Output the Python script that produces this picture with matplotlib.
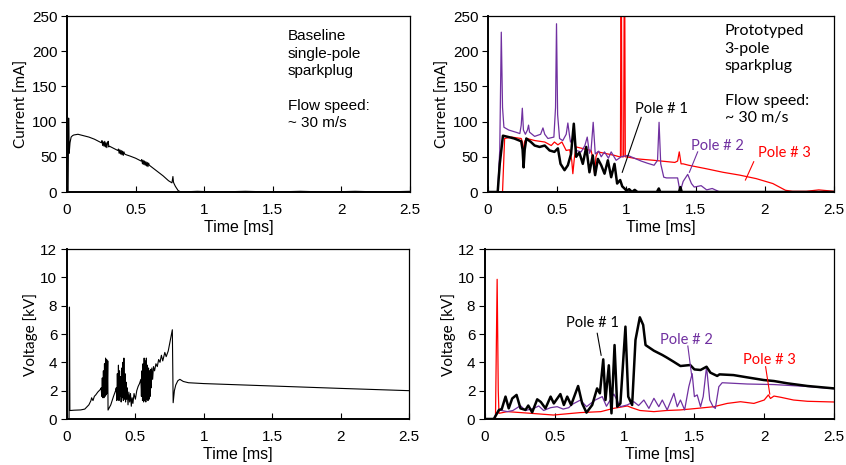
import matplotlib
matplotlib.use("Agg")
import matplotlib.pyplot as plt

# ---- baseline single-pole plug: current [mA] vs time [ms]
base_i_t = [0, 0.008, 0.012, 0.016, 0.022, 0.03, 0.04, 0.05, 0.08, 0.12, 0.16, 0.20, 0.24,
            0.25, 0.255, 0.26, 0.265, 0.27, 0.275, 0.28, 0.285, 0.29, 0.295, 0.30, 0.305, 0.31,
            0.33, 0.36, 0.37, 0.375, 0.38, 0.385, 0.39, 0.395, 0.40, 0.405, 0.41, 0.415, 0.42,
            0.43, 0.46, 0.50, 0.54, 0.545, 0.55, 0.555, 0.56, 0.565, 0.57, 0.575, 0.58, 0.585,
            0.59, 0.595, 0.60, 0.62, 0.66, 0.70, 0.74, 0.765, 0.772, 0.776, 0.78, 0.79, 0.80,
            0.81, 0.83, 0.95, 1.1, 1.3, 1.5, 1.7, 1.9, 2.1, 2.3, 2.5]
base_i = [0, 0, 105, 55, 70, 78, 80, 81, 82, 80, 78, 75, 71,
          70, 73, 66, 71, 65, 72, 64, 70, 63, 69, 72, 64, 65,
          63, 60, 59, 61, 55, 60, 54, 59, 53, 58, 52, 57, 54,
          53, 51, 48, 44, 46, 40, 45, 39, 44, 38, 43, 37, 42,
          36, 41, 38, 35, 29, 23, 16, 13, 22, 14, 12, 8, 5,
          2, 0, 1, 0, 1, 0, 1, 0, 1, 0, 1]

# ---- baseline single-pole plug: voltage [kV] vs time [ms]
base_v_t = [0, 0.015, 0.018, 0.021, 0.025, 0.05, 0.10, 0.13, 0.16, 0.175, 0.18, 0.19, 0.2,
            0.21, 0.225, 0.24, 0.245,
            0.250, 0.254, 0.258, 0.262, 0.266, 0.270, 0.274, 0.278, 0.282, 0.286, 0.290,
            0.294, 0.298, 0.300, 0.32, 0.34, 0.355,
            0.360, 0.364, 0.368, 0.372, 0.376, 0.380, 0.384, 0.388, 0.392, 0.396, 0.400,
            0.404, 0.408, 0.412, 0.416, 0.420, 0.424, 0.428, 0.432, 0.436, 0.44, 0.446,
            0.452, 0.458, 0.464, 0.470, 0.476, 0.482, 0.49, 0.50, 0.51, 0.52, 0.53,
            0.540, 0.544, 0.548, 0.552, 0.556, 0.560, 0.564, 0.568, 0.572, 0.576, 0.580,
            0.584, 0.588, 0.592, 0.596, 0.600, 0.604, 0.608, 0.612, 0.616, 0.620, 0.626,
            0.632, 0.64, 0.65, 0.66, 0.67, 0.68, 0.69, 0.70, 0.715, 0.725, 0.74, 0.77,
            0.776, 0.785, 0.795, 0.81, 0.825, 0.85, 0.888, 1.0, 1.5, 2.0, 2.5]
base_v = [0, 0, 7.9, 0.6, 0.6, 0.62, 0.64, 0.7, 1.0, 1.3, 1.5, 1.3, 1.6,
          1.7, 1.9, 2.05, 2.1,
          2.2, 1.6, 2.9, 1.5, 3.4, 1.5, 3.9, 1.6, 4.3, 1.7, 4.2,
          1.8, 4.1, 0.63, 1.0, 1.6, 2.0,
          2.2, 1.3, 3.2, 1.4, 3.8, 1.3, 3.4, 1.6, 3.0, 1.2, 3.6,
          1.5, 4.0, 1.3, 4.3, 1.4, 3.2, 1.2, 2.6, 1.4, 2.2, 1.0,
          1.9, 1.2, 1.8, 0.9, 1.5, 1.1, 1.8, 1.4, 2.0, 2.3, 2.5,
          2.8, 1.6, 3.4, 1.3, 3.9, 1.2, 4.3, 1.3, 4.1, 1.2, 4.3,
          1.4, 3.8, 1.3, 3.6, 1.4, 3.4, 1.6, 3.5, 2.2, 3.6, 2.8,
          3.7, 3.4, 3.9, 3.7, 4.2, 4.0, 4.5, 4.1, 4.7, 4.4, 4.8, 6.3,
          1.15, 2.0, 2.4, 2.7, 2.8, 2.65, 2.56, 2.5, 2.33, 2.16, 2.0]

# ---- prototyped 3-pole plug: current [mA]
p1_i_t = [0, 0.07, 0.085, 0.108, 0.15, 0.19, 0.24, 0.25, 0.257, 0.265, 0.277, 0.31, 0.337,
          0.373, 0.41, 0.445, 0.48, 0.505, 0.524, 0.553, 0.577, 0.60, 0.62, 0.637, 0.66,
          0.685, 0.71, 0.733, 0.757, 0.774, 0.794, 0.818, 0.842, 0.866, 0.89, 0.914, 0.933,
          0.955, 0.97, 0.986, 1.0, 1.02, 1.04, 1.06, 1.08, 1.22, 1.234, 1.245, 1.38, 1.39,
          1.40, 2.5]
p1_i = [0, 0, 40, 80, 78, 76, 72, 60, 35, 60, 76, 71, 66,
        64, 66, 59, 57, 62, 40, 31, 38, 54, 97, 50, 56,
        40, 64, 28, 52, 24, 47, 38, 26, 45, 21, 40, 12,
        17, 8, 5, 2, 4, 0, 3, 0, 0, 5, 0, 0, 7,
        0, 0]

p2_i_t = [0, 0.07, 0.085, 0.096, 0.105, 0.115, 0.15, 0.2, 0.23, 0.24, 0.248, 0.256, 0.27,
          0.285, 0.293, 0.30, 0.337, 0.38, 0.397, 0.41, 0.433, 0.476, 0.488, 0.495, 0.503,
          0.517, 0.54, 0.565, 0.577, 0.589, 0.596, 0.62, 0.637, 0.673, 0.70, 0.717, 0.733,
          0.745, 0.76, 0.775, 0.80, 0.818, 0.842, 0.87, 0.89, 0.926, 0.962, 1.01, 1.058,
          1.106, 1.15, 1.2, 1.225, 1.236, 1.248, 1.27, 1.29, 1.33, 1.37, 1.388, 1.41, 1.443,
          1.47, 1.49, 1.54, 1.58, 1.62, 1.675, 1.8, 2.0, 2.5]
p2_i = [0, 0, 60, 227, 120, 92, 88, 85, 83, 95, 119, 88, 82,
        88, 95, 85, 79, 82, 91, 82, 76, 78, 120, 239, 110,
        76, 73, 82, 98, 80, 71, 78, 59, 57, 66, 78, 55,
        60, 99, 54, 58, 50, 57, 48, 57, 45, 50, 52, 48,
        44, 41, 38, 45, 99, 40, 21, 20, 20, 20, 0, 15, 25,
        12, 7, 9, 3, 5, 0, 0, 0, 0]

p3_i_t = [0, 0.105, 0.12, 0.17, 0.24, 0.25, 0.257, 0.265, 0.28, 0.34, 0.41, 0.457, 0.48,
          0.505, 0.534, 0.565, 0.59, 0.605, 0.613, 0.625, 0.637, 0.70, 0.745, 0.76, 0.77,
          0.78, 0.794, 0.866, 0.914, 0.95, 0.957, 0.962, 0.968, 0.975, 0.98, 0.986, 0.992,
          1.0, 1.08, 1.2, 1.3, 1.35, 1.37, 1.382, 1.395, 1.41, 1.45, 1.578, 1.698, 1.818,
          1.938, 2.058, 2.15, 2.2, 2.3, 2.39, 2.5]
p3_i = [0, 0, 76, 78, 76, 70, 54, 72, 76, 73, 71, 66, 71,
        67, 71, 59, 60, 45, 26, 50, 64, 61, 59, 45, 26,
        50, 57, 54, 52, 50, 50, 400, 50, 50, 50, 400, 50,
        50, 47, 45, 43, 42, 44, 57, 40, 40, 38, 33, 28, 24,
        19, 12, 2.4, 1, 1, 3, 1]

# ---- prototyped 3-pole plug: voltage [kV]
p1_v_t = [0, 0.063, 0.1, 0.12, 0.147, 0.17, 0.195, 0.226, 0.254, 0.29, 0.31, 0.338, 0.374,
          0.40, 0.433, 0.47, 0.493, 0.54, 0.565, 0.589, 0.617, 0.667, 0.696, 0.727, 0.768,
          0.803, 0.823, 0.847, 0.863, 0.887, 0.906, 0.928, 0.947, 0.97, 1.006, 1.026, 1.054,
          1.078, 1.109, 1.133, 1.15, 1.21, 1.27, 1.30, 1.35, 1.40, 1.47, 1.5, 1.544, 1.587,
          1.615, 1.663, 1.68, 1.78, 1.878, 1.997, 2.07, 2.165, 2.31, 2.5]
p1_v = [0, 0, 0.64, 0.7, 1.58, 0.75, 1.45, 1.7, 0.75, 0.64, 0.95, 0.47, 1.39,
        1.2, 0.75, 1.58, 1.1, 1.76, 0.99, 1.58, 0.99, 2.33, 1.1, 0.45, 0.99,
        2.16, 1.81, 4.21, 1.34, 3.79, 0.4, 5.22, 0.87, 1.1, 6.52, 1.58, 0.99,
        5.58, 7.18, 6.64, 5.22, 4.82, 4.52, 4.35, 4.05, 3.74, 3.81, 3.5, 3.46, 3.69,
        3.27, 3.04, 3.15, 3.1, 2.94, 2.75, 2.68, 2.52, 2.33, 2.16]

p2_v_t = [0, 0.068, 0.075, 0.1, 0.16, 0.2, 0.254, 0.29, 0.35, 0.385, 0.42, 0.47, 0.517,
          0.56, 0.6, 0.624, 0.684, 0.727, 0.79, 0.84, 0.87, 0.923, 0.97, 1.018, 1.066, 1.1,
          1.138, 1.174, 1.21, 1.245, 1.27, 1.305, 1.353, 1.377, 1.4, 1.43, 1.46, 1.484, 1.5,
          1.52, 1.544, 1.563, 1.587, 1.61, 1.634, 1.65, 1.675, 1.699, 1.78, 1.878, 2.07, 2.3,
          2.5]
p2_v = [0, 0, 0.28, 0.64, 0.52, 0.6, 0.94, 0.6, 0.75, 0.92, 0.6, 0.8, 0.87,
        0.7, 0.8, 1.03, 1.34, 0.87, 1.34, 1.58, 0.9, 1.76, 0.87, 0.99, 1.22, 0.95,
        1.34, 0.75, 1.46, 0.87, 1.34, 0.64, 1.81, 0.87, 1.34, 0.64, 2.28, 3.2, 1.58,
        1.7, 0.87, 1.58, 3.69, 1.34, 0.87, 0.75, 2.28, 2.56, 2.52, 2.47, 2.43, 2.3,
        2.14]

p3_v_t = [0, 0.075, 0.087, 0.095, 0.1, 0.16, 0.33, 0.49, 0.68, 0.83, 0.92, 1.02, 1.05,
          1.11, 1.21, 1.3, 1.4, 1.52, 1.64, 1.735, 1.83, 1.926, 2.0, 2.03, 2.045, 2.07, 2.12,
          2.21, 2.31, 2.5]
p3_v = [0, 0, 9.86, 2, 0.4, 0.52, 0.4, 0.28, 0.45, 0.52, 0.75, 0.92, 0.8,
        0.6, 0.52, 0.6, 0.64, 0.75, 0.87, 1.1, 1.22, 1.1, 1.34, 1.7, 1.45, 1.62, 1.53,
        1.34, 1.25, 1.2]

time_ticks = [0, 0.5, 1, 1.5, 2, 2.5]
time_labels = ['0', '0.5', '1', '1.5', '2', '2.5']
current_ticks = [0, 50, 100, 150, 200, 250]
voltage_ticks = [0, 2, 4, 6, 8, 10, 12]

tickFont = ['Liberation Sans', 'DejaVu Sans']
labelFont = ['Lato', 'DejaVu Sans']
noteFont = ['Liberation Sans', 'DejaVu Sans']

PURPLE = '#7030a0'
RED = '#ff0000'


def styleAxes(axes, yticks, ylabel):
    axes.set_xlim(0, 2.5)
    axes.set_ylim(yticks[0], yticks[-1])
    axes.set_xticks(time_ticks)
    axes.set_xticklabels(time_labels)
    axes.set_yticks(yticks)
    axes.set_yticklabels([str(v) for v in yticks])
    axes.tick_params(axis='x', direction='in', length=4, width=0.8, pad=8)
    axes.tick_params(axis='y', direction='out', length=4, width=0.8, pad=3)
    for label in axes.get_xticklabels() + axes.get_yticklabels():
        label.set_family(tickFont)
        label.set_fontsize(11)
    for side in ['top', 'right']:
        axes.spines[side].set_linewidth(0.9)
    for side in ['left', 'bottom']:
        axes.spines[side].set_linewidth(1.4)
    axes.set_xlabel('Time [ms]', family=tickFont, fontsize=11.5, labelpad=2)
    axes.set_ylabel(ylabel, family=labelFont, fontsize=11, labelpad=2)


def addPoleLabel(axes, text, color, textPos, start, end):
    axes.text(textPos[0], textPos[1], text, color=color, family=labelFont,
              fontsize=10.5, ha='left', va='center')
    axes.plot([start[0], end[0]], [start[1], end[1]], color=color, linewidth=0.8)


figure = plt.figure(figsize=(8.46, 4.65), dpi=100)
axTL = figure.add_axes([67 / 846, 1 - 192 / 465, 343 / 846, 176 / 465])
axTR = figure.add_axes([488 / 846, 1 - 192 / 465, 346 / 846, 176 / 465])
axBL = figure.add_axes([67 / 846, 1 - 419 / 465, 342 / 846, 170 / 465])
axBR = figure.add_axes([485 / 846, 1 - 419 / 465, 349 / 846, 170 / 465])

# baseline current
axTL.plot(base_i_t, base_i, color='black', linewidth=0.8)
styleAxes(axTL, current_ticks, 'Current [mA]')
axTL.text(1.61, 231, 'Baseline\nsingle-pole\nsparkplug\n\nFlow speed:\n~ 30 m/s',
          family=noteFont, fontsize=11, va='top', ha='left', linespacing=1.3)

# prototyped current
axTR.plot(p3_i_t, p3_i, color=RED, linewidth=0.9)
axTR.plot(p2_i_t, p2_i, color=PURPLE, linewidth=0.9)
axTR.plot(p1_i_t, p1_i, color='black', linewidth=1.8)
styleAxes(axTR, current_ticks, 'Current [mA]')
axTR.text(1.71, 238, 'Prototyped\n3-pole\nsparkplug\n\nFlow speed:\n~ 30 m/s',
          family=labelFont, fontsize=11.5, va='top', ha='left', linespacing=1.3)
addPoleLabel(axTR, 'Pole # 1', 'black', (1.06, 118), (1.107, 106), (0.97, 28))
addPoleLabel(axTR, 'Pole # 2', PURPLE, (1.47, 65), (1.515, 57), (1.455, 28))
addPoleLabel(axTR, 'Pole # 3', RED, (1.95, 55), (1.92, 43), (1.86, 17))

# baseline voltage
axBL.plot(base_v_t, base_v, color='black', linewidth=0.8)
styleAxes(axBL, voltage_ticks, 'Voltage [kV]')

# prototyped voltage
axBR.plot(p3_v_t, p3_v, color=RED, linewidth=0.9)
axBR.plot(p2_v_t, p2_v, color=PURPLE, linewidth=0.9)
axBR.plot(p1_v_t, p1_v, color='black', linewidth=1.8)
styleAxes(axBR, voltage_ticks, 'Voltage [kV]')
addPoleLabel(axBR, 'Pole # 1', 'black', (0.58, 6.8), (0.804, 6.05), (0.832, 4.5))
addPoleLabel(axBR, 'Pole # 2', PURPLE, (1.25, 5.6), (1.453, 5.15), (1.48, 3.1))
addPoleLabel(axBR, 'Pole # 3', RED, (1.85, 4.2), (2.01, 3.69), (2.04, 1.76))

figure.savefig('out.png', dpi=100)
